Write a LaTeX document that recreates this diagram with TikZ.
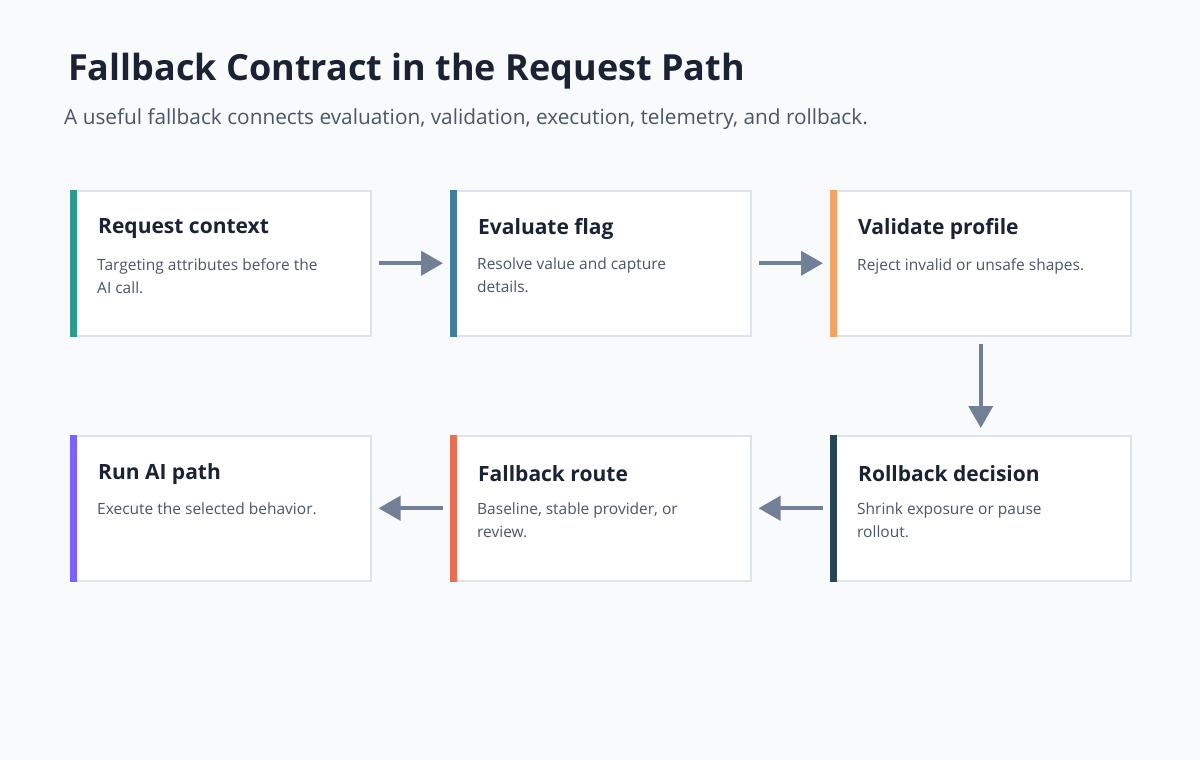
\documentclass[tikz,border=0pt]{standalone}
\usepackage{fontspec}
\setmainfont{Open Sans}
\usetikzlibrary{positioning,arrows.meta}
\definecolor{bgc}{HTML}{F8FAFC}
\definecolor{edgec}{HTML}{DDE3EA}
\definecolor{arrc}{HTML}{718096}
\definecolor{titc}{HTML}{1A2233}
\definecolor{subc}{HTML}{4A5568}
\definecolor{cA}{HTML}{2A9D8F}
\definecolor{cB}{HTML}{457B9D}
\definecolor{cC}{HTML}{F4A261}
\definecolor{cD}{HTML}{264653}
\definecolor{cE}{HTML}{E76F51}
\definecolor{cF}{HTML}{7B61FF}
\tikzset{
  step_box/.style={draw=edgec, line width=1.5pt, fill=white, minimum width=300pt, minimum height=145pt, anchor=north west, inner sep=0pt},
  step_title/.style={anchor=west, font=\fontsize{21}{25}\selectfont\bfseries, text=titc, inner sep=0pt},
  step_text/.style={anchor=north west, font=\fontsize{15.5}{23}\selectfont, text=subc, align=left, inner sep=0pt},
  flow/.style={-{Triangle[length=22pt,width=24pt]}, line width=4pt, draw=arrc, shorten <=7pt, shorten >=7pt},
}
\newcommand{\stepbox}[6]{%
  \node [step_box] (#1) at (#2,#3) {};
  \fill [#4] (#1.north west) rectangle ([xshift=7pt]#1.south west);
  \node [step_title] (#1t) at ([xshift=28pt,yshift=-39pt]#1.north west) {#5};
  \node [step_text] (#1d) at ([xshift=27pt,yshift=-68pt]#1.north west) {#6};
}
\begin{document}
\begin{tikzpicture}[x=1pt,y=-1pt]
  \fill [bgc] (0,0) rectangle (1200,760);
  \useasboundingbox (0,0) rectangle (1200,760);
  \node [anchor=west, font=\fontsize{36}{40}\selectfont\bfseries, text=titc, inner sep=0pt] (title) at (68,71) {Fallback Contract in the Request Path};
  \node [anchor=west, font=\fontsize{20.8}{24}\selectfont, text=subc, inner sep=0pt] (sub) at (64,119) {A useful fallback connects evaluation, validation, execution, telemetry, and rollback.};
  % row 1
  \stepbox{req}{70}{190}{cA}{Request context}{Targeting attributes before the\\AI call.}
  \stepbox{eval}{450}{190}{cB}{Evaluate flag}{Resolve value and capture\\details.}
  \stepbox{valid}{830}{190}{cC}{Validate profile}{Reject invalid or unsafe shapes.}
  % row 2
  \stepbox{run}{70}{435}{cF}{Run AI path}{Execute the selected behavior.}
  \stepbox{fall}{450}{435}{cE}{Fallback route}{Baseline, stable provider, or\\review.}
  \stepbox{roll}{830}{435}{cD}{Rollback decision}{Shrink exposure or pause\\rollout.}
  % arrows
  \draw [flow] (req.east) -- (eval.west);
  \draw [flow] (eval.east) -- (valid.west);
  \draw [flow] (valid.south) -- (roll.north);
  \draw [flow] (roll.west) -- (fall.east);
  \draw [flow] (fall.west) -- (run.east);
\end{tikzpicture}
\end{document}
